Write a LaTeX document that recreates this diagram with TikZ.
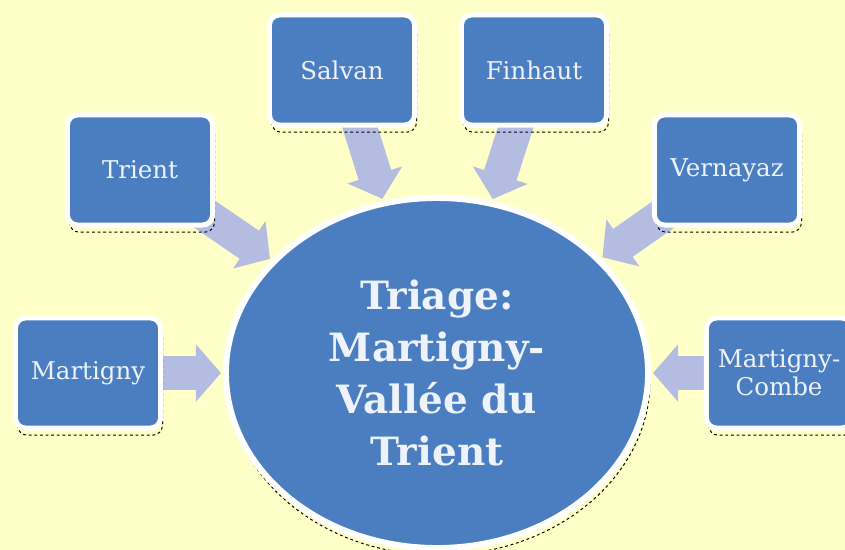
\documentclass[tikz,border=0pt]{standalone}
\usepackage{fontspec}
\setmainfont{DejaVu Serif}
\usepackage{tikz}
\usetikzlibrary{shapes,arrows.meta,positioning}
\usepackage{xcolor}
\definecolor{bgyellow}{RGB}{255,255,200}
\definecolor{boxblue}{RGB}{74,126,192}
\definecolor{arrowblue}{RGB}{180,188,226}
\definecolor{textwhite}{RGB}{238,242,250}
\pgfdeclarelayer{back}
\pgfdeclarelayer{arrowlayer}
\pgfsetlayers{back,arrowlayer,main}
\tikzstyle{shadowed} = [preaction={draw=black, line width=0.7pt, dash pattern=on 2pt off 2pt, transform canvas={xshift=0.05cm, yshift=-0.18cm}}]
\tikzstyle{town} = [shadowed, rectangle, rounded corners=0.25cm, draw=white, line width=0.125cm, fill=boxblue, minimum width=3.625cm, minimum height=2.75cm, inner sep=0pt, text=textwhite, align=center, font=\fontsize{17.4}{20}\selectfont]
\tikzstyle{hub} = [shadowed, ellipse, draw=white, line width=0.15cm, fill=boxblue, minimum width=10.55cm, minimum height=8.75cm, inner sep=0pt, text=textwhite, align=center, font=\bfseries\fontsize{27.7}{37}\selectfont]
\tikzstyle{feed} = [line width=0.85cm, draw=arrowblue, -{Triangle[length=0.625cm,width=1.4cm]}, shorten >=0.05cm]

\begin{document}
\begin{tikzpicture}[x=0.025cm,y=-0.025cm]
\useasboundingbox (0,0) rectangle (845,550);
\begin{pgfonlayer}{back}
\fill[bgyellow] (0,0) rectangle (845,550);
\end{pgfonlayer}
\clip (0,0) rectangle (845,550);

% centre
\node[hub] (triage) at (437,373) {Triage:\\Martigny-\\Vallée du\\Trient};

% communes
\node[town] (martigny) at (88,373) {Martigny};
\node[town] (trient) at (140,170) {Trient};
\node[town] (salvan) at (342,70) {Salvan};
\node[town] (finhaut) at (534,70) {Finhaut};
\node[town] (vernayaz) at (727,170) {Vernayaz};
\node[town] (combe) at (779,373) {Martigny-\\Combe};

\begin{pgfonlayer}{arrowlayer}
\draw[feed] (martigny.center) -- (triage);
\draw[feed] (trient.center) -- (triage);
\draw[feed] (salvan.center) -- (triage);
\draw[feed] (finhaut.center) -- (triage);
\draw[feed] (vernayaz.center) -- (triage);
\draw[feed] (combe.center) -- (triage);
%\draw[feed] (triage) -- (combe);
\end{pgfonlayer}
\end{tikzpicture}
\end{document}
